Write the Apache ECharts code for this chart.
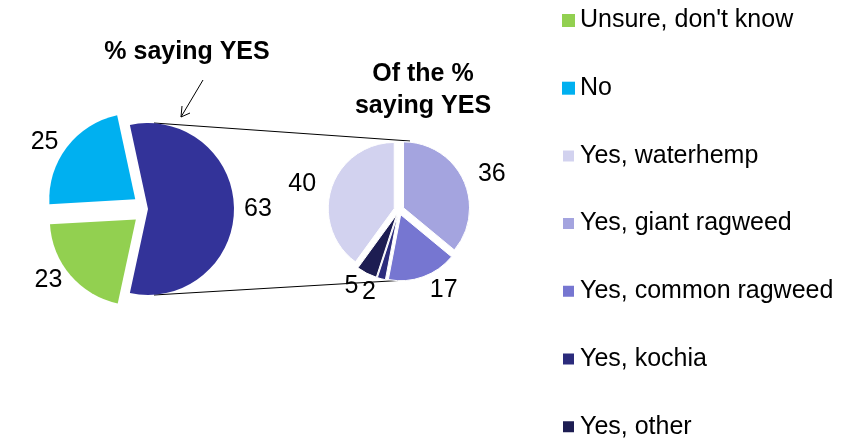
<!DOCTYPE html>
<html>
<head>
<meta charset="utf-8">
<script src="https://cdn.jsdelivr.net/npm/echarts@6/dist/echarts.min.js"></script>
<style>
  html, body { margin: 0; padding: 0; background: #fff; }
  #chart { width: 858px; height: 440px; }
</style>
</head>
<body>
<div id="chart"></div>
<script>
// Main pie: share of all respondents
const mainNames = ['Yes', "Unsure, don't know", 'No'];
const mainValues = [63, 23, 25];
const mainColors = ['#333399', '#92D050', '#00B0F0'];

// Breakdown pie: of those saying yes
const yesNames = ['Yes, giant ragweed', 'Yes, common ragweed', 'Yes, kochia', 'Yes, other', 'Yes, waterhemp'];
const yesValues = [36, 17, 2, 5, 40];
const yesColors = ['#A4A4DF', '#7676D1', '#2B2B7C', '#1D1D52', '#D2D2EF'];

// Legend order
const legendNames = ["Unsure, don't know", 'No', 'Yes, waterhemp', 'Yes, giant ragweed',
                     'Yes, common ragweed', 'Yes, kochia', 'Yes, other'];

const FONT = '"Liberation Sans", Arial, sans-serif';

// Layout
const mainCenter = [148, 209], mainRadius = 86;
const yesCenter = [399, 210], yesRadius = 66;

// Rotate the main pie so the "Yes" slice faces the breakdown pie
const mainTotal = mainValues.reduce((a, b) => a + b, 0);
const mainStart = mainValues[0] / mainTotal * 180;

const chart = echarts.init(document.getElementById('chart'), null, { renderer: 'canvas' });

const labelCommon = {
  show: true,
  position: 'outside',
  formatter: '{c}',
  fontSize: 25,
  fontFamily: FONT,
  color: '#000',
  distanceToLabelLine: 2
};

chart.setOption({
  animation: false,
  backgroundColor: '#fff',
  legend: {
    orient: 'vertical',
    left: 561,
    top: 8,
    height: 480,
    padding: 0,
    data: legendNames,
    itemWidth: 13,
    itemHeight: 13,
    itemGap: 42.7,
    icon: 'rect',
    selectedMode: false,
    textStyle: { fontSize: 25, fontFamily: FONT, color: '#000', lineHeight: 25 }
  },
  series: [
    {
      type: 'pie',
      center: mainCenter,
      radius: mainRadius,
      startAngle: mainStart,
      clockwise: true,
      selectedMode: 'multiple',
      selectedOffset: 16,
      avoidLabelOverlap: false,
      label: labelCommon,
      labelLine: { show: false, length: 8, length2: 0 },
      emphasis: { disabled: true },
      itemStyle: { borderWidth: 0 },
      data: mainNames.map((n, i) => ({
        name: n,
        value: mainValues[i],
        selected: i > 0,
        itemStyle: { color: mainColors[i] }
      }))
    },
    {
      type: 'pie',
      center: yesCenter,
      radius: yesRadius,
      startAngle: 90,
      clockwise: true,
      selectedMode: 'multiple',
      selectedOffset: 5,
      avoidLabelOverlap: false,
      label: labelCommon,
      labelLine: { show: false, length: 14, length2: 0 },
      emphasis: { disabled: true },
      itemStyle: { borderWidth: 1, borderColor: '#fff' },
      data: yesNames.map((n, i) => ({
        name: n,
        value: yesValues[i],
        selected: true,
        itemStyle: { color: yesColors[i] }
      }))
    }
  ],
  graphic: [
    {
      type: 'text',
      style: { text: '% saying YES', x: 187, y: 52, align: 'center', verticalAlign: 'middle',
               font: 'bold 25px ' + FONT, fill: '#000' }
    },
    {
      type: 'text',
      style: { text: 'Of the %\nsaying YES', x: 423, y: 90, align: 'center', verticalAlign: 'middle',
               font: 'bold 25px ' + FONT, fill: '#000', lineHeight: 32 }
    },
    // pointer from the title to the main pie
    {
      type: 'polyline',
      shape: { points: [[203, 80], [181, 117]] },
      style: { stroke: '#000', lineWidth: 1, fill: null }
    },
    {
      type: 'polyline',
      shape: { points: [[182, 106], [181, 117], [190, 113]] },
      style: { stroke: '#000', lineWidth: 1, fill: null }
    },
    // connector lines between the two pies
    {
      type: 'line',
      shape: { x1: mainCenter[0] + 6, y1: mainCenter[1] - mainRadius,
               x2: yesCenter[0] + 11, y2: yesCenter[1] - yesRadius - 3 },
      style: { stroke: '#000', lineWidth: 1 }
    },
    {
      type: 'line',
      shape: { x1: mainCenter[0] + 6, y1: mainCenter[1] + mainRadius,
               x2: yesCenter[0] + 8, y2: yesCenter[1] + yesRadius + 4 },
      style: { stroke: '#000', lineWidth: 1 }
    }
  ]
});
</script>
</body>
</html>
